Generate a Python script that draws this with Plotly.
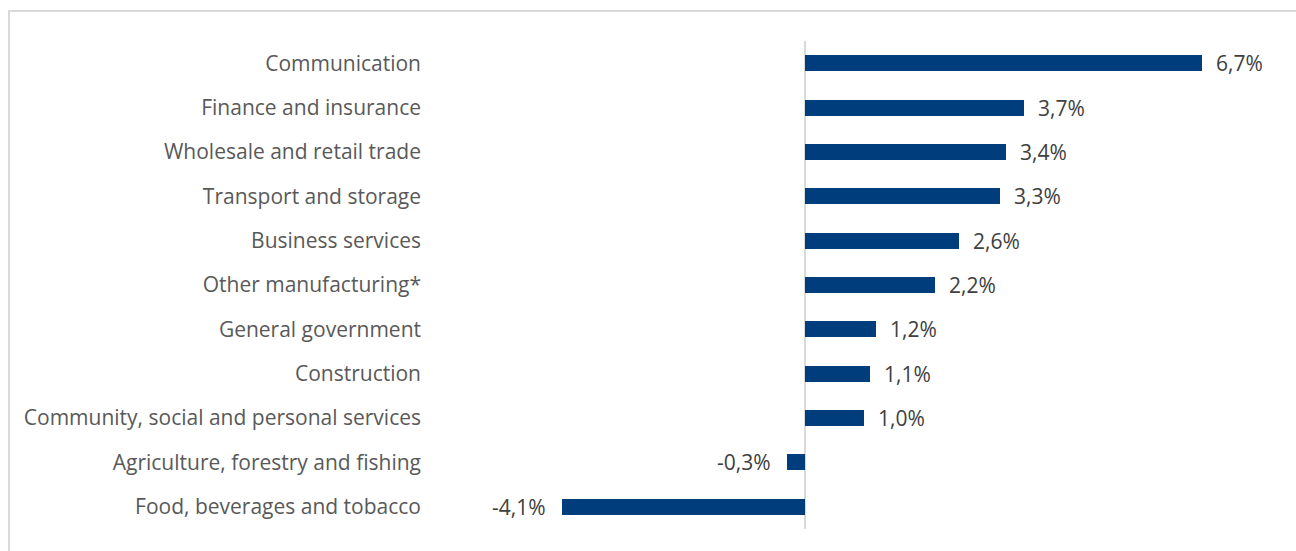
import plotly.graph_objects as go

# Growth by sector, top to bottom
sectors = [
    "Communication",
    "Finance and insurance",
    "Wholesale and retail trade",
    "Transport and storage",
    "Business services",
    "Other manufacturing*",
    "General government",
    "Construction",
    "Community, social and personal services",
    "Agriculture, forestry and fishing",
    "Food, beverages and tobacco",
]
growth = [6.7, 3.7, 3.4, 3.3, 2.6, 2.2, 1.2, 1.1, 1.0, -0.3, -4.1]

label_text = [f"{v:.1f}%".replace(".", ",") for v in growth]

BAR_COLOR = "#003D7C"
FONT = "Open Sans"

fig = go.Figure(
    go.Bar(
        x=growth,
        y=sectors,
        orientation="h",
        width=0.36,
        marker=dict(color=BAR_COLOR, line=dict(width=0)),
        hoverinfo="skip",
    )
)

# value labels beside each bar end
for s, v, t in zip(sectors, growth, label_text):
    fig.add_annotation(
        x=v, y=s, xref="x", yref="y",
        text=t, showarrow=False,
        xanchor="left" if v >= 0 else "right",
        xshift=12 if v >= 0 else -14,
        font=dict(family=FONT, size=21, color="#404040"),
    )

# outer frame
fig.add_shape(
    type="rect", xref="paper", yref="paper",
    x0=-0.4895, x1=1.1, y0=-0.07, y1=1.0615,
    line=dict(color="#D9D9D9", width=2), fillcolor="rgba(0,0,0,0)",
    layer="below",
)

fig.update_layout(
    width=1296, height=551,
    margin=dict(l=430, r=6, t=41, b=22),
    plot_bgcolor="white", paper_bgcolor="white",
    showlegend=False,
    bargap=0,
    xaxis=dict(
        range=[-6.33, 8.19],
        showgrid=False, showticklabels=False, ticks="",
        zeroline=True, zerolinecolor="#D9D9D9", zerolinewidth=1.5,
        fixedrange=True,
    ),
    yaxis=dict(
        categoryorder="array", categoryarray=sectors,
        autorange="reversed",
        showgrid=False, zeroline=False, ticks="",
        ticklabelstandoff=8,
        tickfont=dict(family=FONT, size=21, color="#595959"),
        fixedrange=True,
    ),
)

fig.write_html("out.html")
